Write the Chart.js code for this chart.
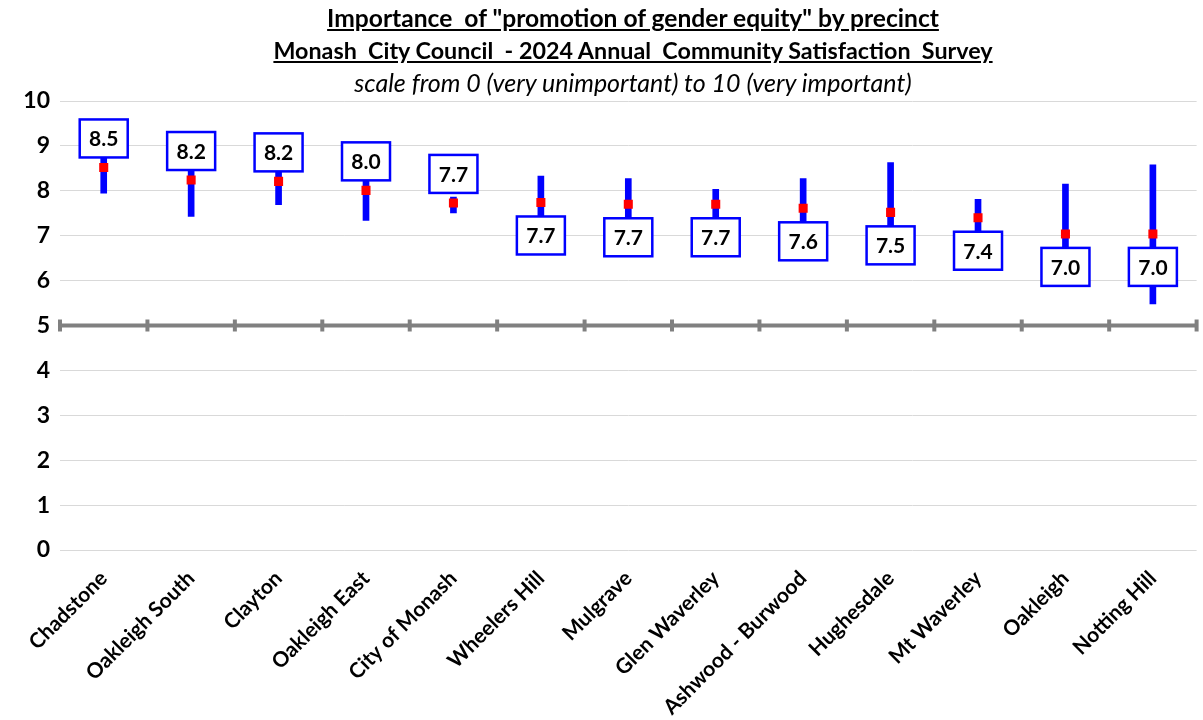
<!DOCTYPE html>
<html>
<head>
<meta charset="utf-8">
<script src="https://cdn.jsdelivr.net/npm/chart.js@4"></script>
<style>
body{margin:0;background:#fff;}
#wrap{position:relative;width:1203px;height:720px;}
#titles{position:absolute;left:0;top:2px;width:1266px;text-align:center;font-family:Lato,"Noto Sans",sans-serif;color:#000;}
#titles div{height:32px;line-height:32px;font-size:24px;white-space:pre;}
.t{font-weight:bold;text-decoration:underline;}
#t1{font-size:24.6px !important;}
#t2{font-size:23.3px !important;}
.s{font-style:italic;font-size:25px !important;}
canvas{position:absolute;left:0;top:0;}
</style>
</head>
<body>
<div id="wrap">
<canvas id="c" width="1203" height="720"></canvas>
<div id="titles"><div class="t" id="t1">Importance  of "promotion of gender equity" by precinct</div><div class="t" id="t2">Monash  City Council  - 2024 Annual  Community Satisfaction  Survey</div><div class="s">scale from 0 (very unimportant) to 10 (very important)</div></div>
</div>
<script>
// precincts
const precincts=["Chadstone","Oakleigh South","Clayton","Oakleigh East","City of Monash","Wheelers Hill","Mulgrave","Glen Waverley","Ashwood - Burwood","Hughesdale","Mt Waverley","Oakleigh","Notting Hill"];
// average score
const means=[8.52,8.24,8.21,8.01,7.73,7.74,7.70,7.70,7.61,7.52,7.40,7.04,7.04];
// 95% confidence interval
const lows=[7.95,7.43,7.69,7.34,7.51,7.15,7.13,7.37,6.95,6.41,6.99,5.98,5.48];
const highs=[9.09,9.05,8.73,8.68,7.86,8.33,8.27,8.03,8.27,8.63,7.81,8.15,8.58];
const yTicks=[0,1,2,3,4,5,6,7,8,9,10];
const aboveCount=5; //first ones get label on top

const FONT='Lato, "Noto Sans", sans-serif';

const midAxis={
    id:'midAxis',
    beforeDatasetsDraw(chart){
        const ctx=chart.ctx, x=chart.scales.x, y=chart.scales.y;
        const y5=y.getPixelForValue(5);
        ctx.save();
        ctx.strokeStyle="#808080";
        ctx.lineWidth=4;
        ctx.beginPath();
        ctx.moveTo(x.getPixelForValue(-0.5),y5);
        ctx.lineTo(x.getPixelForValue(precincts.length-0.5),y5);
        ctx.stroke();
        for(let i=0;i<=precincts.length;i++){
            const px=x.getPixelForValue(i-0.5);
            ctx.beginPath();
            ctx.moveTo(px,y5-6);
            ctx.lineTo(px,y5+6);
            ctx.stroke();
        }
        ctx.restore();
    }
};

const boxLabels={
    id:'boxLabels',
    afterDatasetsDraw(chart){
        const ctx=chart.ctx, x=chart.scales.x, y=chart.scales.y;
        const w=48,h=38;
        ctx.save();
        ctx.font="bold 21px "+FONT;
        ctx.textAlign="center";
        ctx.textBaseline="middle";
        for(let i=0;i<means.length;i++){
            const px=x.getPixelForValue(i), py=y.getPixelForValue(means[i]);
            const top=i<aboveCount ? py-10-h : py+14;
            ctx.fillStyle="#fff";
            ctx.fillRect(px-w/2,top,w,h);
            ctx.strokeStyle="#0000ff";
            ctx.lineWidth=2.5;
            ctx.strokeRect(px-w/2,top,w,h);
            ctx.fillStyle="#000";
            ctx.fillText(means[i].toFixed(1),px,top+h/2+1);
        }
        ctx.restore();
    }
};

new Chart(document.getElementById("c").getContext("2d"),{
    type:"bar",
    data:{
        labels:precincts,
        datasets:[
            {type:"line",data:means,showLine:false,pointStyle:"rect",pointRadius:6.4,pointHoverRadius:6.4,backgroundColor:"#ff0000",borderColor:"#ff0000",borderWidth:0,order:0},
            {type:"bar",data:lows.map((l,i)=>[l,highs[i]]),backgroundColor:"#0000ff",barThickness:6,borderWidth:0,order:1}
        ]
    },
    options:{
        responsive:false,
        animation:false,
        layout:{padding:{top:101,right:2,left:0,bottom:0}},
        plugins:{legend:{display:false},tooltip:{enabled:false}},
        scales:{
            x:{
                grid:{display:false,drawTicks:false},
                border:{display:false},
                ticks:{color:"#000",font:{family:FONT,size:21,weight:"bold"},maxRotation:45,minRotation:45,autoSkip:false,padding:16},
                afterFit(s){s.height=170;}
            },
            y:{
                min:0,max:10,
                afterBuildTicks(s){s.ticks=yTicks.map(v=>({value:v}));},
                grid:{color:"#d9d9d9",lineWidth:1,drawTicks:false},
                border:{display:false},
                ticks:{color:"#000",font:{family:FONT,size:23,weight:"bold"},padding:10},
                afterFit(s){s.width=60;}
            }
        }
    },
    plugins:[midAxis,boxLabels]
});
</script>
</body>
</html>
